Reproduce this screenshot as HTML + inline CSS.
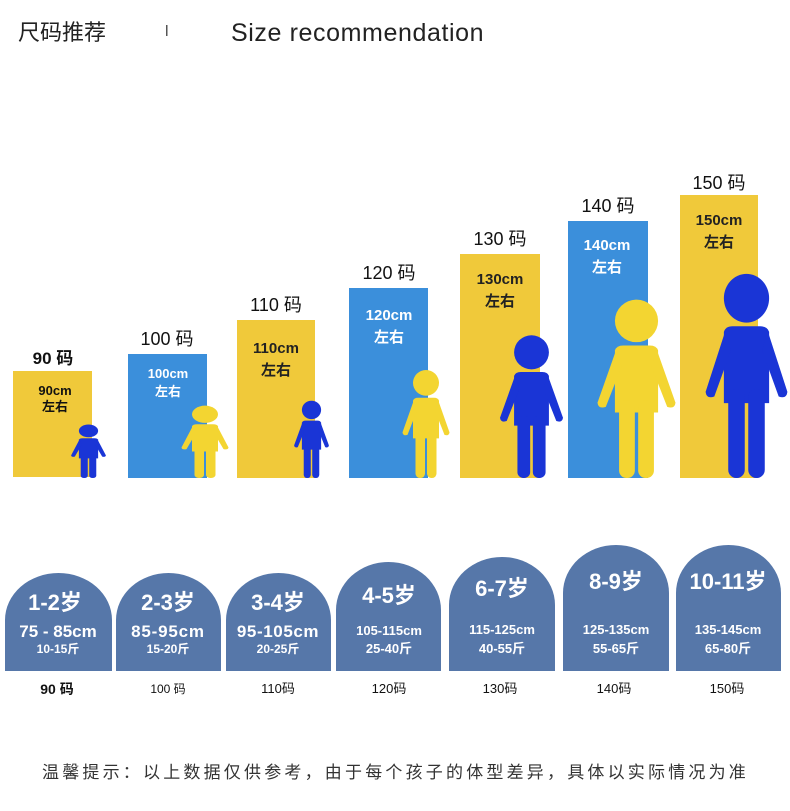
<!DOCTYPE html>
<html><head><meta charset="utf-8"><style>
html,body{margin:0;padding:0;background:#fff;}
svg{display:block;font-family:"Liberation Sans","Noto Sans CJK SC",sans-serif;}
</style></head><body>
<svg width="790" height="811" viewBox="0 0 790 811" xmlns="http://www.w3.org/2000/svg">
<defs>
<symbol id="p" viewBox="0 0 100 220" preserveAspectRatio="none">
<circle cx="50" cy="28" r="26"/>
<path d="M24 64 Q26 58 34 58 L66 58 Q74 58 76 64 L76 140 L24 140 Z"/>
<path d="M26 62 L3 128 Q4 136 13 133 L32 84 Z"/>
<path d="M74 62 L97 128 Q96 136 87 133 L68 84 Z"/>
<rect x="29" y="125" width="19" height="95" rx="9"/>
<rect x="52" y="125" width="19" height="95" rx="9"/>
</symbol>
</defs>
<text x="18" y="40" font-size="22" fill="#222">尺码推荐</text>
<rect x="166" y="25" width="1.5" height="11" fill="#555"/>
<text x="231" y="41" font-size="25" fill="#222" letter-spacing="0.6">Size recommendation</text>

<rect x="13" y="371" width="79" height="106" fill="#f0c93a"/>
<rect x="128" y="354" width="79" height="124" fill="#3b8fdb"/>
<rect x="237" y="320" width="78" height="158" fill="#f0c93a"/>
<rect x="349" y="288" width="79" height="190" fill="#3b8fdb"/>
<rect x="460" y="254" width="80" height="224" fill="#f0c93a"/>
<rect x="568" y="221" width="80" height="257" fill="#3b8fdb"/>
<rect x="680" y="195" width="78" height="283" fill="#f0c93a"/>

<g text-anchor="middle" fill="#111">
<text x="53" y="364" font-size="17" font-weight="bold">90 码</text>
<text x="167" y="345" font-size="18">100 码</text>
<text x="276" y="311" font-size="18">110 码</text>
<text x="389" y="279" font-size="18">120 码</text>
<text x="500" y="245" font-size="18">130 码</text>
<text x="608" y="212" font-size="18">140 码</text>
<text x="719" y="189" font-size="18">150 码</text>
</g>
<g text-anchor="middle" font-weight="bold">
<text x="55" y="395" font-size="13" fill="#111">90cm</text>
<text x="55" y="411" font-size="13" fill="#111">左右</text>
<text x="168" y="378" font-size="13" fill="#fff">100cm</text>
<text x="168" y="396" font-size="13" fill="#fff">左右</text>
<text x="276" y="353" font-size="15" fill="#222">110cm</text>
<text x="276" y="375" font-size="15" fill="#222">左右</text>
<text x="389" y="320" font-size="15" fill="#fff">120cm</text>
<text x="389" y="342" font-size="15" fill="#fff">左右</text>
<text x="500" y="284" font-size="15" fill="#222">130cm</text>
<text x="500" y="306" font-size="15" fill="#222">左右</text>
<text x="607" y="250" font-size="15" fill="#fff">140cm</text>
<text x="607" y="272" font-size="15" fill="#fff">左右</text>
<text x="719" y="225" font-size="15" fill="#222">150cm</text>
<text x="719" y="247" font-size="15" fill="#222">左右</text>
</g>

<use href="#p" x="70" y="424" width="37" height="54" fill="#1a35d6"/>
<use href="#p" x="180" y="405" width="50" height="73" fill="#f3d531"/>
<use href="#p" x="293" y="400" width="37" height="78" fill="#1a35d6"/>
<use href="#p" x="401" y="369" width="50" height="109" fill="#f3d531"/>
<use href="#p" x="498" y="334" width="67" height="144" fill="#1a35d6"/>
<use href="#p" x="595" y="298" width="83" height="180" fill="#f3d531"/>
<use href="#p" x="703" y="272" width="87" height="206" fill="#1a35d6"/>

<g fill="#5677a9">
<path d="M5 671 L5 620 A53.5 47 0 0 1 112 620 L112 671 Z"/>
<path d="M116 671 L116 620 A52.5 47 0 0 1 221 620 L221 671 Z"/>
<path d="M226 671 L226 620 A52.5 47 0 0 1 331 620 L331 671 Z"/>
<path d="M336 671 L336 610 A52.5 48 0 0 1 441 610 L441 671 Z"/>
<path d="M449 671 L449 605 A53 48 0 0 1 555 605 L555 671 Z"/>
<path d="M563 671 L563 593 A53 48 0 0 1 669 593 L669 671 Z"/>
<path d="M676 671 L676 593 A52.5 48 0 0 1 781 593 L781 671 Z"/>
</g>
<g text-anchor="middle" fill="#fff" font-weight="bold">
<text x="55" y="610" font-size="22">1-2岁</text>
<text x="58" y="637" font-size="17">75 - 85cm</text>
<text x="58" y="653" font-size="12">10-15斤</text>
<text x="168" y="610" font-size="22">2-3岁</text>
<text x="168" y="637" font-size="17" letter-spacing="0.8">85-95cm</text>
<text x="168" y="653" font-size="12">15-20斤</text>
<text x="278" y="610" font-size="22">3-4岁</text>
<text x="278" y="637" font-size="17" letter-spacing="0.6">95-105cm</text>
<text x="278" y="653" font-size="12">20-25斤</text>
<text x="389" y="603" font-size="22">4-5岁</text>
<text x="389" y="635" font-size="13">105-115cm</text>
<text x="389" y="653" font-size="13">25-40斤</text>
<text x="502" y="596" font-size="22">6-7岁</text>
<text x="502" y="634" font-size="13">115-125cm</text>
<text x="502" y="653" font-size="13">40-55斤</text>
<text x="616" y="589" font-size="22">8-9岁</text>
<text x="616" y="634" font-size="13">125-135cm</text>
<text x="616" y="653" font-size="13">55-65斤</text>
<text x="728" y="589" font-size="22">10-11岁</text>
<text x="728" y="634" font-size="13">135-145cm</text>
<text x="728" y="653" font-size="13">65-80斤</text>
</g>
<g text-anchor="middle" fill="#111">
<text x="57" y="694" font-size="14" font-weight="bold">90 码</text>
<text x="168" y="693" font-size="12">100 码</text>
<text x="278" y="693" font-size="13">110码</text>
<text x="389" y="693" font-size="13">120码</text>
<text x="500" y="693" font-size="13">130码</text>
<text x="614" y="693" font-size="13">140码</text>
<text x="727" y="693" font-size="13">150码</text>
</g>
<text x="42" y="778" font-size="17" fill="#333" letter-spacing="3.2">温馨提示：以上数据仅供参考，由于每个孩子的体型差异，具体以实际情况为准</text>
</svg>
</body></html>
